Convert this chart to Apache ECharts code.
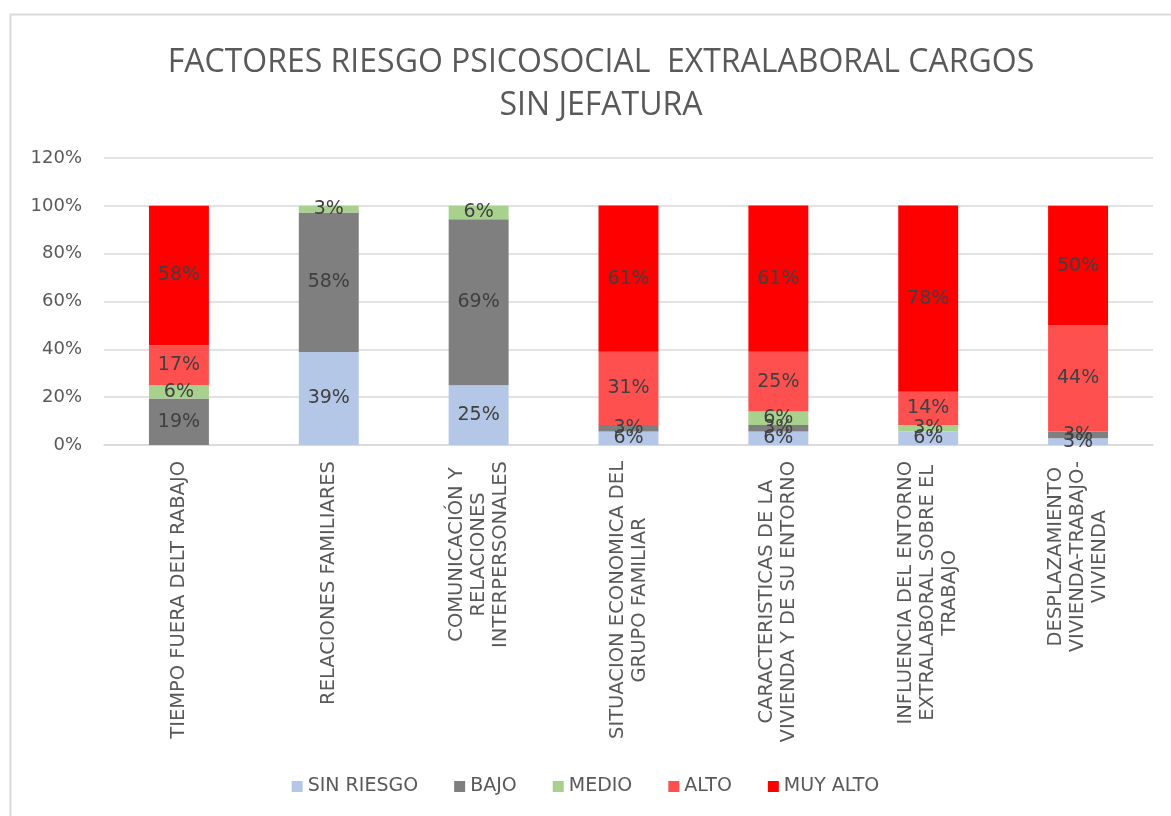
<!DOCTYPE html>
<html>
<head>
<meta charset="utf-8">
<script src="https://cdn.jsdelivr.net/npm/echarts@6/dist/echarts.min.js"></script>
<style>
html,body{margin:0;padding:0;background:#fff;}
#chart{width:1171px;height:816px;}
</style>
</head>
<body>
<div id="chart"></div>
<script>
const categories = [
  'TIEMPO FUERA DELT RABAJO',
  'RELACIONES FAMILIARES',
  'COMUNICACIÓN Y\nRELACIONES\nINTERPERSONALES',
  'SITUACION ECONOMICA DEL\nGRUPO FAMILIAR',
  'CARACTERISTICAS DE LA\nVIVIENDA Y DE SU ENTORNO',
  'INFLUENCIA DEL ENTORNO\nEXTRALABORAL SOBRE EL\nTRABAJO',
  'DESPLAZAMIENTO\nVIVIENDA-TRABAJO-\nVIVIENDA'
];
const sinRiesgo = [0, 38.9, 25.0, 5.6, 5.6, 5.6, 2.8];
const bajo      = [19.4, 58.3, 69.4, 2.8, 2.8, 0, 2.8];
const medio     = [5.6, 2.8, 5.6, 0, 5.6, 2.8, 0];
const alto      = [16.7, 0, 0, 30.6, 25.0, 13.9, 44.4];
const muyAlto   = [58.3, 0, 0, 61.1, 61.1, 77.8, 50.0];
const seriesNames = ['SIN RIESGO', 'BAJO', 'MEDIO', 'ALTO', 'MUY ALTO'];
const colors = ['#b4c7e7', '#7f7f7f', '#a9d18e', '#ff5050', '#ff0000'];
const yTicks = { min: 0, max: 120, interval: 20 };

const chart = echarts.init(document.getElementById('chart'));
const dataSets = [sinRiesgo, bajo, medio, alto, muyAlto];

const series = dataSets.map((d, i) => ({
  name: seriesNames[i],
  type: 'bar',
  stack: 'total',
  barWidth: '40%',
  data: d,
  itemStyle: { color: colors[i] },
  label: {
    show: true,
    position: 'inside',
    fontFamily: 'DejaVu Sans',
    fontSize: 19,
    color: '#404040',
    formatter: p => p.value > 0 ? Math.round(p.value) + '%' : ''
  }
}));

chart.setOption({
  animation: false,
  backgroundColor: '#fff',
  title: {
    text: 'FACTORES RIESGO PSICOSOCIAL  EXTRALABORAL CARGOS\nSIN JEFATURA',
    left: 596,
    top: 36,
    textAlign: 'center',
    textStyle: {
      fontFamily: 'Open Sans',
      fontWeight: 'normal',
      fontSize: 32,
      lineHeight: 43,
      color: '#595959'
    }
  },
  graphic: [{
    type: 'rect',
    shape: { x: 10.5, y: 14.5, width: 1300, height: 1000 },
    style: { fill: 'none', stroke: '#d9d9d9', lineWidth: 2 },
    silent: true
  }],
  legend: {
    bottom: 15,
    left: 'center',
    itemWidth: 11,
    itemHeight: 11,
    itemGap: 36,
    icon: 'rect',
    textStyle: { fontFamily: 'DejaVu Sans', fontSize: 19, color: '#595959' },
    data: seriesNames
  },
  grid: { left: 104, right: 18, top: 158, bottom: 816 - 445, containLabel: false },
  xAxis: {
    type: 'category',
    data: categories,
    axisTick: { show: false },
    axisLine: { lineStyle: { color: '#d9d9d9', width: 1.5 } },
    axisLabel: {
      rotate: 90,
      interval: 0,
      margin: 16,
      fontFamily: 'DejaVu Sans',
      fontSize: 19.5,
      color: '#595959',
      formatter: v => v.split('\n').map(l => '{c|' + l + '}').join('\n'),
      rich: { c: { align: 'center', fontFamily: 'DejaVu Sans', fontSize: 19.5, color: '#595959', lineHeight: 22 } }
    }
  },
  yAxis: {
    type: 'value',
    min: yTicks.min,
    max: yTicks.max,
    interval: yTicks.interval,
    axisLine: { show: false },
    axisTick: { show: false },
    splitLine: { lineStyle: { color: '#d9d9d9', width: 1.5 } },
    axisLabel: {
      margin: 22,
      fontFamily: 'DejaVu Sans',
      fontSize: 18,
      color: '#595959',
      formatter: '{value}%'
    }
  },
  series: series
});
</script>
</body>
</html>
